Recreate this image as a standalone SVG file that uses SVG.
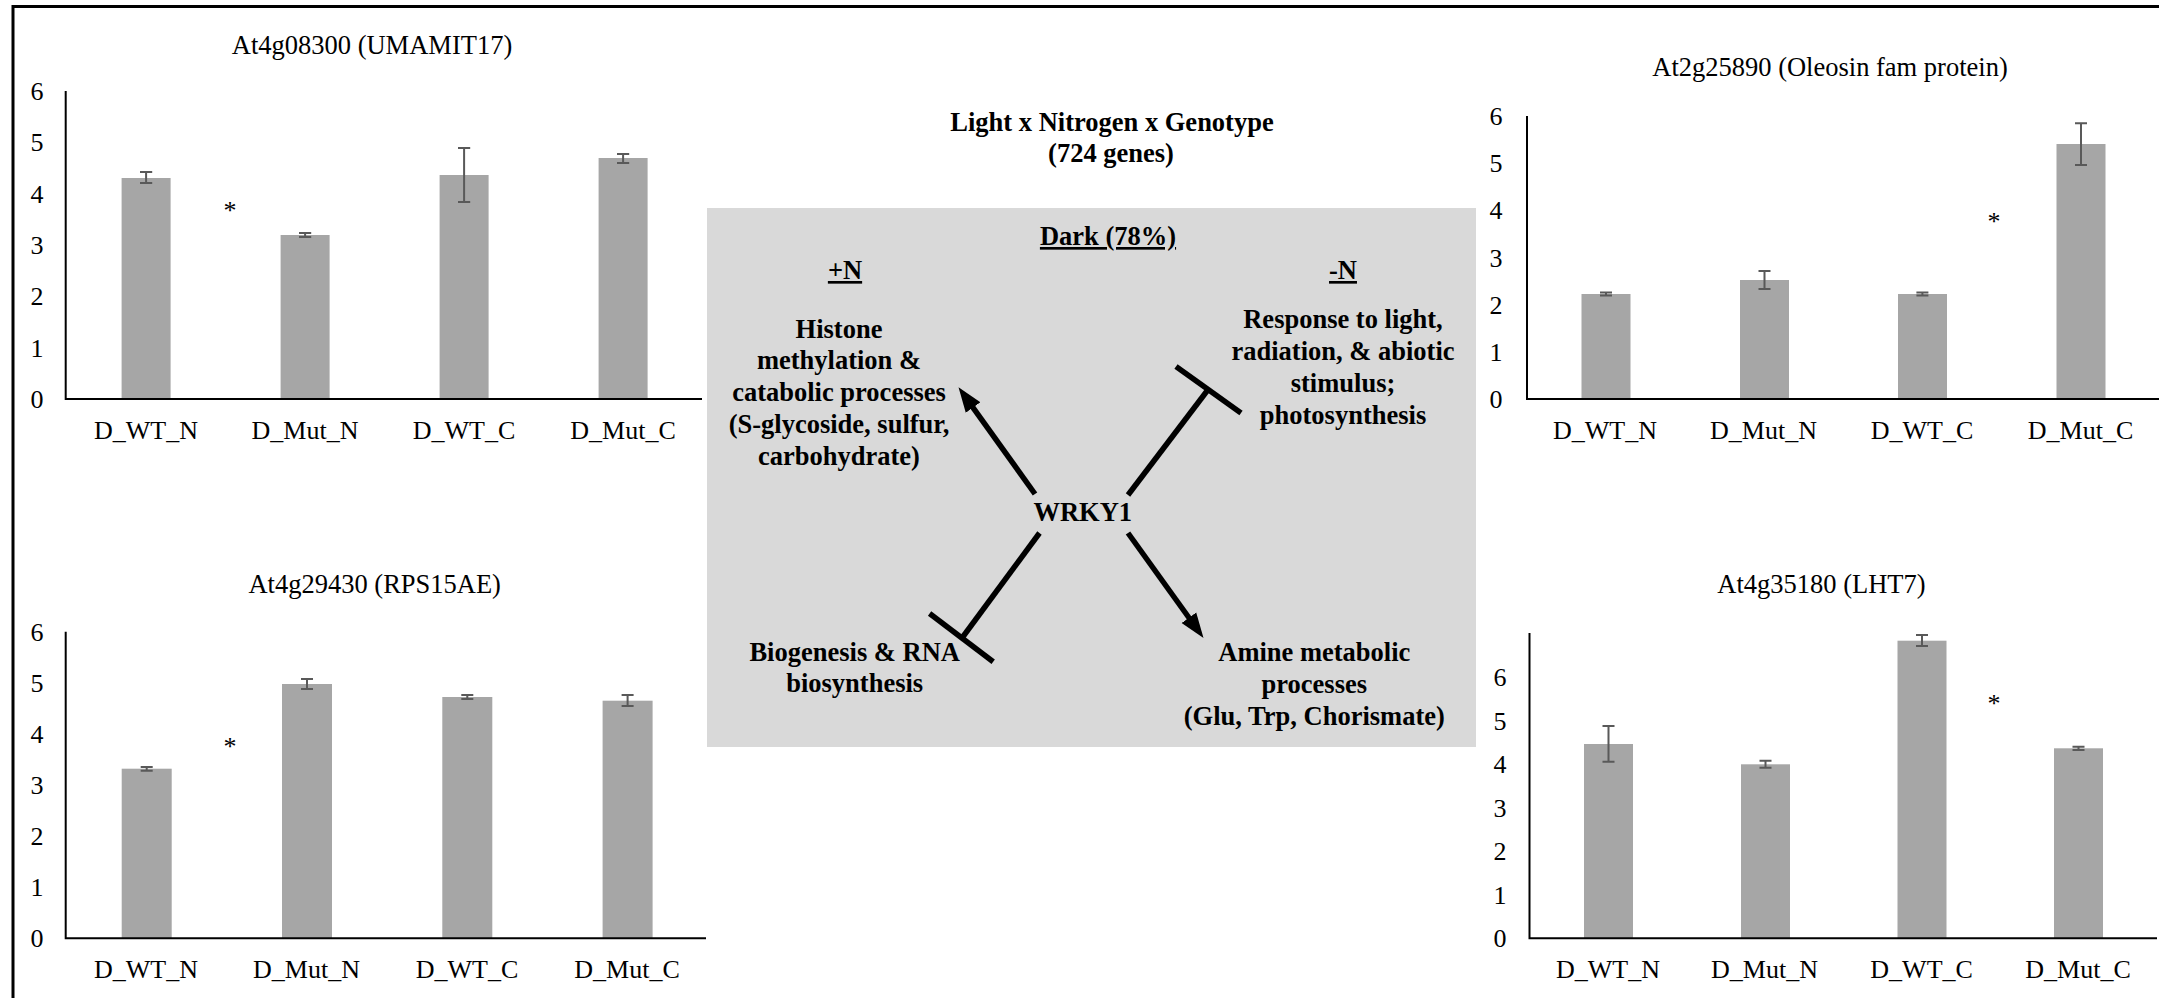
<svg xmlns="http://www.w3.org/2000/svg" width="2159" height="998" viewBox="0 0 2159 998">
<style>
text{font-family:"Liberation Serif","Times New Roman",serif;fill:#000}
.ttl{font-size:26.5px;text-anchor:middle}
.tk{font-size:26px;text-anchor:middle}
.xl{font-size:26px;text-anchor:middle}
.st{font-size:26px;text-anchor:middle}
.b{font-size:26.5px;font-weight:bold;text-anchor:middle}
.u{text-decoration:underline}
.bar{fill:#a6a6a6}
.ax{stroke:#000;stroke-width:2;fill:none}
.err{stroke:#595959;stroke-width:2;fill:none}
.frame{stroke:#000;stroke-width:3;fill:none}
.con{stroke:#000;stroke-width:5.5;fill:none}
</style>
<defs>
<marker id="ah" markerUnits="userSpaceOnUse" markerWidth="26" markerHeight="20" refX="1" refY="10" orient="auto">
<path d="M0,1 L25,10 L0,19 z" fill="#000"/>
</marker>
</defs>
<rect width="2159" height="998" fill="#fff"/>
<path class="frame" d="M13,998 V6.5 H2159"/>

<g id="panel">
<rect x="707" y="208" width="769" height="539" fill="#d9d9d9"/>
</g>

<g id="chart1">
<text class="ttl" x="372" y="54">At4g08300 (UMAMIT17)</text>
<g class="tk">
<text x="37" y="408">0</text><text x="37" y="356.7">1</text><text x="37" y="305.3">2</text><text x="37" y="254">3</text><text x="37" y="202.7">4</text><text x="37" y="151.3">5</text><text x="37" y="100">6</text>
</g>
<rect class="bar" x="121.6" y="178" width="49" height="221"/>
<rect class="bar" x="280.6" y="235" width="49" height="164"/>
<rect class="bar" x="439.6" y="175" width="49" height="224"/>
<rect class="bar" x="598.6" y="158" width="49" height="241"/>
<path class="err" d="M146.1,172V183M140,172H152.2M140,183H152.2 M305.1,233V237M299,233H311.2M299,237H311.2 M464.1,148V202M458,148H470.2M458,202H470.2 M623.1,154V163M617,154H629.2M617,163H629.2"/>
<path class="ax" d="M65.7,91V399H702"/>
<text class="st" x="230" y="219">*</text>
<text class="xl" x="146" y="439">D_WT_N</text><text class="xl" x="305" y="439">D_Mut_N</text><text class="xl" x="464" y="439">D_WT_C</text><text class="xl" x="623" y="439">D_Mut_C</text>
</g>

<g id="chart2">
<text class="ttl" x="1830" y="76">At2g25890 (Oleosin fam protein)</text>
<g class="tk">
<text x="1496" y="408">0</text><text x="1496" y="360.8">1</text><text x="1496" y="313.7">2</text><text x="1496" y="266.5">3</text><text x="1496" y="219.3">4</text><text x="1496" y="172.2">5</text><text x="1496" y="125">6</text>
</g>
<rect class="bar" x="1581.5" y="294" width="49" height="105"/>
<rect class="bar" x="1740" y="280" width="49" height="119"/>
<rect class="bar" x="1898" y="294" width="49" height="105"/>
<rect class="bar" x="2056.5" y="144" width="49" height="255"/>
<path class="err" d="M1606,292.5V295.5M1600,292.5H1612M1600,295.5H1612 M1764.5,271V289M1758.5,271H1770.5M1758.5,289H1770.5 M1922.4,292.5V295.5M1916.4,292.5H1928.4M1916.4,295.5H1928.4 M2081,123.3V165M2075,123.3H2087M2075,165H2087"/>
<path class="ax" d="M1527,116V399H2159"/>
<text class="st" x="1994" y="230">*</text>
<text class="xl" x="1605" y="439">D_WT_N</text><text class="xl" x="1763.5" y="439">D_Mut_N</text><text class="xl" x="1922" y="439">D_WT_C</text><text class="xl" x="2080.5" y="439">D_Mut_C</text>
</g>

<g id="chart3">
<text class="ttl" x="374.7" y="593">At4g29430 (RPS15AE)</text>
<g class="tk">
<text x="37" y="947.3">0</text><text x="37" y="896.2">1</text><text x="37" y="845.1">2</text><text x="37" y="794">3</text><text x="37" y="742.9">4</text><text x="37" y="691.8">5</text><text x="37" y="640.7">6</text>
</g>
<rect class="bar" x="121.7" y="768.7" width="50" height="169.6"/>
<rect class="bar" x="282" y="684" width="50" height="254.3"/>
<rect class="bar" x="442.3" y="697" width="50" height="241.3"/>
<rect class="bar" x="602.6" y="700.7" width="50" height="237.6"/>
<path class="err" d="M146.7,767V770.7M140.7,767H152.7M140.7,770.7H152.7 M307,679V689M301,679H313M301,689H313 M467.3,695V699M461.3,695H473.3M461.3,699H473.3 M627.6,695V706M621.6,695H633.6M621.6,706H633.6"/>
<path class="ax" d="M65.7,631.7V938.3H706"/>
<text class="st" x="230" y="755">*</text>
<text class="xl" x="146" y="978">D_WT_N</text><text class="xl" x="306.5" y="978">D_Mut_N</text><text class="xl" x="467" y="978">D_WT_C</text><text class="xl" x="627" y="978">D_Mut_C</text>
</g>

<g id="chart4">
<text class="ttl" x="1821.5" y="593">At4g35180 (LHT7)</text>
<g class="tk">
<text x="1500" y="947.3">0</text><text x="1500" y="903.7">1</text><text x="1500" y="860.2">2</text><text x="1500" y="816.6">3</text><text x="1500" y="773">4</text><text x="1500" y="729.5">5</text><text x="1500" y="685.9">6</text>
</g>
<rect class="bar" x="1584" y="744" width="49" height="194.3"/>
<rect class="bar" x="1741" y="764.3" width="49" height="174"/>
<rect class="bar" x="1897.5" y="640.7" width="49" height="297.6"/>
<rect class="bar" x="2054" y="748.3" width="49" height="190"/>
<path class="err" d="M1608.5,726V761.7M1602.5,726H1614.5M1602.5,761.7H1614.5 M1765.5,760.7V767.7M1759.5,760.7H1771.5M1759.5,767.7H1771.5 M1922,635V646M1916,635H1928M1916,646H1928 M2078.5,746.7V750M2072.5,746.7H2084.5M2072.5,750H2084.5"/>
<path class="ax" d="M1529.5,633V938.3H2157"/>
<text class="st" x="1994" y="712">*</text>
<text class="xl" x="1608" y="978">D_WT_N</text><text class="xl" x="1764.5" y="978">D_Mut_N</text><text class="xl" x="1921.6" y="978">D_WT_C</text><text class="xl" x="2078" y="978">D_Mut_C</text>
</g>

<g id="header">
<text class="b" x="1112" y="131">Light x Nitrogen x Genotype</text>
<text class="b" x="1111" y="162">(724 genes)</text>
</g>
<g id="dark-label"><text class="b u" x="1108" y="245">Dark (78%)</text></g>
<g id="plusN"><text class="b u" x="845" y="279">+N</text></g>
<g id="minusN"><text class="b u" x="1343" y="279">-N</text></g>

<g id="wrky1"><text class="b" x="1082.7" y="521">WRKY1</text></g>

<g id="histone">
<text class="b" x="839" y="337.5">Histone</text>
<text class="b" x="839" y="369">methylation &amp;</text>
<text class="b" x="839" y="400.5">catabolic processes</text>
<text class="b" x="839" y="433">(S-glycoside, sulfur,</text>
<text class="b" x="839" y="464.5">carbohydrate)</text>
</g>

<g id="response">
<text class="b" x="1343" y="328">Response to light,</text>
<text class="b" x="1343" y="360">radiation, &amp; abiotic</text>
<text class="b" x="1343" y="392">stimulus;</text>
<text class="b" x="1343" y="424">photosynthesis</text>
</g>

<g id="biogenesis">
<text class="b" x="854.7" y="660.5">Biogenesis &amp; RNA</text>
<text class="b" x="854.7" y="692">biosynthesis</text>
</g>

<g id="amine">
<text class="b" x="1314.3" y="660.5">Amine metabolic</text>
<text class="b" x="1314.3" y="693">processes</text>
<text class="b" x="1314.3" y="725">(Glu, Trp, Chorismate)</text>
</g>

<g id="connectors">
<path class="con" d="M1035,494 L972.5,406.8" marker-end="url(#ah)"/>
<path class="con" d="M1128,533 L1189.5,618.5" marker-end="url(#ah)"/>
<path class="con" d="M1128,495 L1208.5,389"/>
<path class="con" d="M1176,366.5 L1241,413"/>
<path class="con" d="M1039.5,533 L962,638"/>
<path class="con" d="M929.6,613.5 L993.2,661.7"/>
</g>
</svg>
